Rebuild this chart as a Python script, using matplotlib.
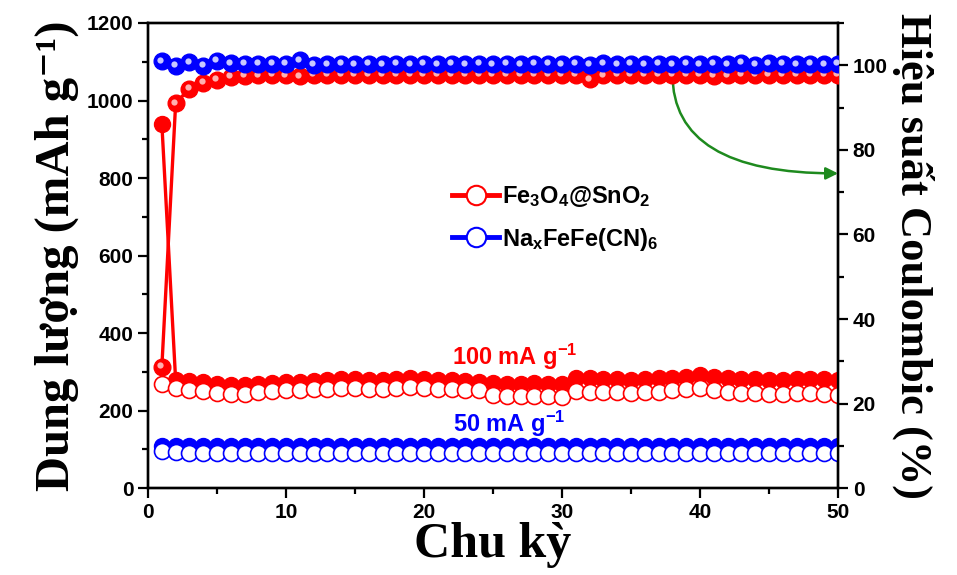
import numpy as np
import matplotlib
matplotlib.use('Agg')
import matplotlib.pyplot as plt
from matplotlib.transforms import ScaledTranslation

# data
cycles = np.arange(1, 51)

# Fe3O4@SnO2 capacities (mAh/g), filled and open markers
red_filled = [940, 278, 276, 274, 270, 267, 266, 270, 272, 274,
              275, 277, 279, 281, 282, 280, 279, 281, 283, 282,
              280, 279, 277, 275, 272, 270, 270, 271, 270, 270,
              285, 283, 282, 281, 280, 281, 283, 285, 288, 291,
              287, 284, 282, 281, 280, 280, 281, 282, 281, 279]
red_open = [270, 258, 252, 250, 246, 244, 243, 247, 250, 252,
            253, 255, 257, 258, 259, 257, 256, 258, 260, 259,
            257, 256, 254, 252, 240, 238, 237, 238, 237, 236,
            251, 249, 248, 247, 246, 247, 249, 253, 257, 259,
            253, 249, 246, 245, 244, 244, 245, 245, 244, 241]

# NaxFeFe(CN)6 capacities (mAh/g)
blue_filled = [110, 109, 109, 108, 108, 109, 108, 108, 108, 108,
               108, 108, 109, 108, 108, 108, 108, 108, 108, 108,
               108, 108, 108, 108, 108, 108, 108, 108, 108, 108,
               108, 108, 108, 108, 108, 108, 108, 108, 108, 108,
               108, 108, 108, 108, 108, 108, 108, 108, 108, 108]
blue_open = [95, 93, 92, 92, 92, 92, 92, 92, 92, 92,
             92, 92, 92, 92, 92, 92, 92, 92, 92, 92,
             92, 92, 92, 92, 92, 92, 92, 92, 92, 92,
             92, 92, 92, 92, 92, 92, 92, 92, 92, 92,
             92, 92, 92, 92, 92, 92, 92, 92, 92, 92]

# coulombic efficiency (%)
red_ce = [28.7, 91.0, 94.5, 95.8, 96.5, 97.2, 97.5, 97.6, 97.7, 97.6,
          97.4, 97.8, 97.7, 97.7, 97.8, 97.7, 97.7, 97.8, 97.7, 97.7,
          97.8, 97.7, 97.7, 97.8, 97.7, 97.7, 97.8, 97.7, 97.7, 97.8,
          97.7, 96.7, 97.6, 97.7, 97.8, 97.7, 97.7, 97.8, 97.7, 97.7,
          97.5, 97.6, 97.7, 97.8, 97.7, 97.7, 97.8, 97.7, 97.7, 97.8]
blue_ce = [100.9, 99.8, 100.7, 99.8, 101.1, 100.5, 100.3, 100.3, 100.3, 100.4,
           101.2, 100.1, 100.2, 100.3, 100.2, 100.3, 100.2, 100.3, 100.2, 100.3,
           100.2, 100.3, 100.2, 100.4, 100.2, 100.3, 100.2, 100.3, 100.4, 100.2,
           100.3, 100.1, 100.5, 100.2, 100.4, 100.2, 100.3, 100.2, 100.3, 100.2,
           100.3, 100.2, 100.6, 100.1, 100.5, 100.3, 100.2, 100.3, 100.2, 100.3]

red = '#ff0000'
blue = '#0000ff'

plt.rcParams['font.family'] = ['Liberation Sans', 'DejaVu Sans']
plt.rcParams['font.weight'] = 'bold'
plt.rcParams['mathtext.fontset'] = 'custom'
plt.rcParams['mathtext.rm'] = 'Liberation Sans:bold'
plt.rcParams['mathtext.it'] = 'Liberation Sans:bold'
plt.rcParams['mathtext.bf'] = 'Liberation Sans:bold'

fig = plt.figure(figsize=(9.57, 5.75), dpi=100)
ax = fig.add_axes([0.1547, 0.151, 0.7210, 0.809])
ax2 = ax.twinx()

ms = 11.5
lw = 2.4

# capacities on the left axis
ax.plot(cycles, red_filled, '-o', color=red, ms=ms, lw=lw, mfc=red, mec=red, zorder=3)
ax.plot(cycles, red_open, '-o', color=red, ms=ms, lw=lw, mfc='white', mec=red, mew=1.2, zorder=4)
ax.plot(cycles, blue_filled, '-o', color=blue, ms=ms, lw=lw, mfc=blue, mec=blue, zorder=3)
ax.plot(cycles, blue_open, '-o', color=blue, ms=ms, lw=lw, mfc='white', mec=blue, mew=1.2, zorder=4)

# efficiency on the right axis, shaded like spheres
shine = ax2.transData + ScaledTranslation(-1.2 / 72, 1.2 / 72, fig.dpi_scale_trans)
ax2.plot(cycles, red_ce, '-o', color=red, ms=12, lw=lw, zorder=3)
ax2.plot(cycles, red_ce, 'o', color='#ffb0b0', ms=4.5, mew=0, transform=shine, zorder=3)
ax2.plot(cycles, blue_ce, '-o', color=blue, ms=12, lw=lw, zorder=4)
ax2.plot(cycles, blue_ce, 'o', color='#c8c8ff', ms=4.5, mew=0, transform=shine, zorder=4)

ax.set_xlim(0, 50)
ax.set_ylim(0, 1200)
ax2.set_ylim(0, 110)
ax.set_xticks(np.arange(0, 51, 10))
ax.set_xticks(np.arange(0, 51, 5), minor=True)
ax.set_yticks(np.arange(0, 1201, 200))
ax.set_yticks(np.arange(0, 1201, 100), minor=True)
ax2.set_yticks(np.arange(0, 101, 20))
ax2.set_yticks(np.arange(0, 111, 10), minor=True)

for a in (ax, ax2):
    a.tick_params(which='major', direction='out', length=7, width=1.6, labelsize=15)
    a.tick_params(which='minor', direction='out', length=4, width=1.6)
    for s in a.spines.values():
        s.set_linewidth(1.7)
ax.tick_params(top=False, right=False)

serif = ['Liberation Serif', 'DejaVu Serif']
ax.set_xlabel('Chu kỳ', family=serif, fontsize=36, fontweight='bold', labelpad=0)
ax.set_ylabel('Dung lượng (mAh g\u207b\u00b9)', family=serif, fontsize=35, fontweight='bold', labelpad=6)
ax2.set_ylabel('Hiệu suất Coulombic (%)', family=serif, fontsize=32, fontweight='bold',
               rotation=270, labelpad=34)

# legend with open markers
h1, = ax.plot([], [], '-o', color=red, ms=14, lw=3.5, mfc='white', mec=red, mew=1.5)
h2, = ax.plot([], [], '-o', color=blue, ms=14, lw=3.5, mfc='white', mec=blue, mew=1.5)
ax.legend([h1, h2], ['Fe$_3$O$_4$@SnO$_2$', 'Na$_x$FeFe(CN)$_6$'],
          loc='center left', bbox_to_anchor=(0.41, 0.58), frameon=False,
          fontsize=17, handlelength=2.0, handletextpad=0.1, labelspacing=0.7)

ax.text(26.6, 338, '100 mA g$^{-1}$', color=red, fontsize=17, ha='center', va='center')
ax.text(26.2, 165, '50 mA g$^{-1}$', color=blue, fontsize=17, ha='center', va='center')

# green arrow pointing to the efficiency axis
ax.annotate('', xy=(50, 812), xytext=(38, 1068),
            arrowprops=dict(arrowstyle='-|>', color='#1e8a1e', lw=1.8, mutation_scale=18,
                            connectionstyle='angle3,angleA=-90,angleB=0',
                            shrinkA=0, shrinkB=0),
            zorder=5)

fig.savefig('out.png', dpi=100)
